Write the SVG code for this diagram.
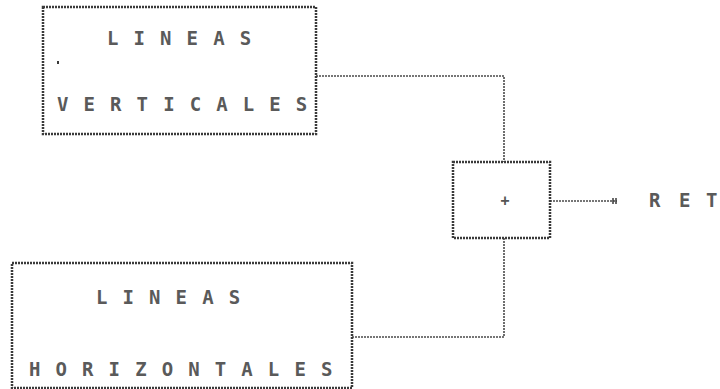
<svg xmlns="http://www.w3.org/2000/svg" width="720" height="389" viewBox="0 0 720 389">
<style>
.box{fill:none;stroke:#3a3a3a;stroke-width:2.5;stroke-dasharray:2 1}
.edge{fill:none;stroke:#4a4a4a;stroke-width:1.6;stroke-dasharray:2 1}
.t{font-family:"DejaVu Sans Mono","Liberation Mono",monospace;font-size:19px;font-weight:bold;fill:#5a5a5a;letter-spacing:15.1px}
</style>
<rect width="720" height="389" fill="#fff"/>
<defs>
<marker id="tick" markerWidth="6" markerHeight="8" refX="5" refY="4" orient="auto" markerUnits="userSpaceOnUse">
<path d="M1,1V7M4,1V7" stroke="#3a3a3a" stroke-width="1.5"/>
</marker>
</defs>
<g id="connectors">
<path class="edge" d="M316,76H504V162"/>
<path class="edge" d="M504,238V337H352"/>
<path class="edge" d="M550,201H617" marker-end="url(#tick)"/>
</g>
<g id="verticales">
<rect class="box" x="43" y="7" width="273" height="127"/>
<text class="t" x="107" y="45">LINEAS</text>
<text class="t" x="57" y="111">VERTICALES</text>
<rect x="57" y="61" width="2" height="3" fill="#3a3a3a"/>
</g>
<g id="suma">
<rect class="box" x="453" y="162" width="97" height="76"/>
<text x="505" y="206" text-anchor="middle" font-family="DejaVu Sans Mono, monospace" font-size="15" font-weight="bold" fill="#555">+</text>
</g>
<g id="horizontales">
<rect class="box" x="12" y="263" width="340" height="125"/>
<text class="t" x="96" y="304">LINEAS</text>
<text class="t" x="29" y="376">HORIZONTALES</text>
</g>
<g id="ret">
<text x="649 679 706" y="207" font-family="DejaVu Sans Mono, monospace" font-size="19" font-weight="bold" fill="#5a5a5a">RET</text>
</g>
</svg>
